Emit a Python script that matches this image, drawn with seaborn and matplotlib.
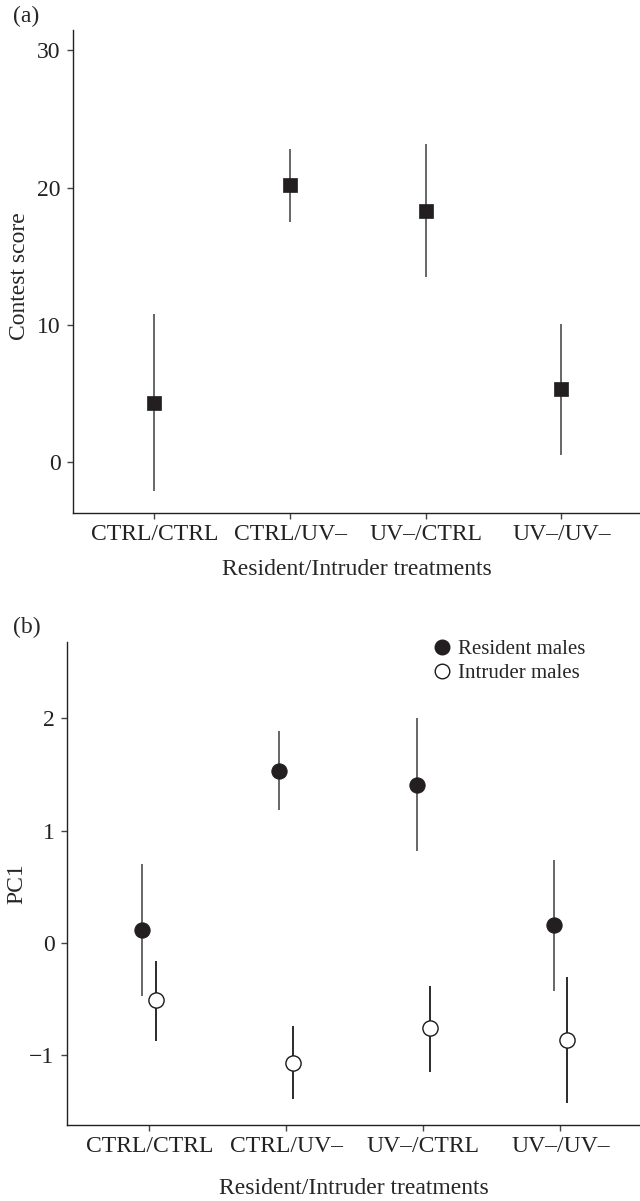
import numpy as np
import pandas as pd
import matplotlib
matplotlib.use("Agg")
import matplotlib.pyplot as plt
from matplotlib.lines import Line2D
import seaborn as sns

# ---- data ----
treatments = ["CTRL/CTRL", "CTRL/UV\u2013", "UV\u2013/CTRL", "UV\u2013/UV\u2013"]

score_mean = [4.3, 20.2, 18.3, 5.3]
score_lo = [-2.1, 17.5, 13.5, 0.5]
score_hi = [10.8, 22.85, 23.2, 10.1]

res_mean = [0.12, 1.53, 1.41, 0.16]
res_lo = [-0.47, 1.18, 0.82, -0.43]
res_hi = [0.70, 1.89, 2.00, 0.74]

int_mean = [-0.51, -1.065, -0.76, -0.86]
int_lo = [-0.87, -1.385, -1.145, -1.42]
int_hi = [-0.16, -0.74, -0.38, -0.30]

groups = ["Resident males", "Intruder males"]

sns.set_style("ticks")
plt.rcParams["font.family"] = ["Liberation Serif", "DejaVu Serif"]
plt.rcParams["font.size"] = 16

FS_TICK = 17
FS_LAB = 17
DARK = "#231f20"
GREY = "#5a5a5a"

fig = plt.figure(figsize=(6.4, 12.01), dpi=100)
ax1 = fig.add_axes([0.114, 0.5729, 0.886, 0.4022])
ax2 = fig.add_axes([0.1047, 0.0633, 0.8953, 0.4022])

pos = np.arange(len(treatments))

# ---- panel a ----
dfa = pd.DataFrame({"x": pos, "mean": score_mean, "lo": score_lo, "hi": score_hi})
ax1.vlines(dfa["x"], dfa["lo"], dfa["hi"], color=GREY, lw=1.3, zorder=2)
sns.scatterplot(data=dfa, x="x", y="mean", marker="s", s=110, color=DARK,
                edgecolor=DARK, linewidth=0.5, ax=ax1, zorder=3, legend=False)
ax1.set_xlim(-0.6, 3.58)
ax1.set_ylim(-3.7, 31.5)
ax1.set_yticks([0, 10, 20, 30])
ax1.set_xticks(pos)
ax1.set_xticklabels(treatments)
ax1.set_xlabel("Resident/Intruder treatments", fontsize=FS_LAB, va="center")
ax1.set_ylabel("Contest score", fontsize=FS_LAB, va="center")
ax1.xaxis.set_label_coords(0.5, -0.118)
ax1.yaxis.set_label_coords(-0.095, 0.49)

# ---- panel b ----
off = 0.05
dfb = pd.DataFrame({
    "x": np.concatenate([pos - off, pos + off]),
    "mean": res_mean + int_mean,
    "lo": res_lo + int_lo,
    "hi": res_hi + int_hi,
    "group": [groups[0]] * 4 + [groups[1]] * 4,
})
r = dfb[dfb["group"] == groups[0]]
i = dfb[dfb["group"] == groups[1]]
ax2.vlines(r["x"], r["lo"], r["hi"], color=GREY, lw=1.3, zorder=2)
ax2.vlines(i["x"], i["lo"], i["hi"], color="#1a1a1a", lw=1.3, zorder=2)
sns.scatterplot(data=r, x="x", y="mean", marker="o", s=120, color=DARK,
                edgecolor=DARK, linewidth=0.8, ax=ax2, zorder=3, legend=False)
sns.scatterplot(data=i, x="x", y="mean", marker="o", s=120, color="white",
                edgecolor="#1a1a1a", linewidth=1.0, ax=ax2, zorder=3, legend=False)
ax2.set_xlim(-0.6, 3.58)
ax2.set_ylim(-1.62, 2.68)
ax2.set_yticks([-1, 0, 1, 2])
ax2.set_xticks(pos)
ax2.set_xticklabels(treatments)
ax2.set_xlabel("Resident/Intruder treatments", fontsize=FS_LAB, va="center")
ax2.set_ylabel("PC1", fontsize=FS_LAB, va="center")
ax2.xaxis.set_label_coords(0.5, -0.131)
ax2.yaxis.set_label_coords(-0.088, 0.5)

handles = [
    Line2D([], [], ls="none", marker="o", ms=10.5, mfc=DARK, mec=DARK),
    Line2D([], [], ls="none", marker="o", ms=10.5, mfc="white", mec="#1a1a1a"),
]
ax2.legend(handles, groups, loc="upper left", bbox_to_anchor=(0.64, 1.005),
           frameon=False, fontsize=15, handlelength=0.8, handletextpad=0.35,
           labelspacing=0.2, borderpad=0, borderaxespad=0)

for ax in (ax1, ax2):
    sns.despine(ax=ax)
    for sp in ("left", "bottom"):
        ax.spines[sp].set_color("#222222")
        ax.spines[sp].set_linewidth(1.0)
    ax.tick_params(axis="both", direction="out", length=4, width=1.0,
                   color="#444444", labelsize=FS_TICK, labelcolor="#222222", pad=5)
    ax.tick_params(axis="x", pad=4)

fig.text(0.02, 0.995, "(a)", fontsize=FS_LAB, va="top", ha="left")
fig.text(0.02, 0.486, "(b)", fontsize=FS_LAB, va="top", ha="left")

fig.savefig("out.png", dpi=100)
